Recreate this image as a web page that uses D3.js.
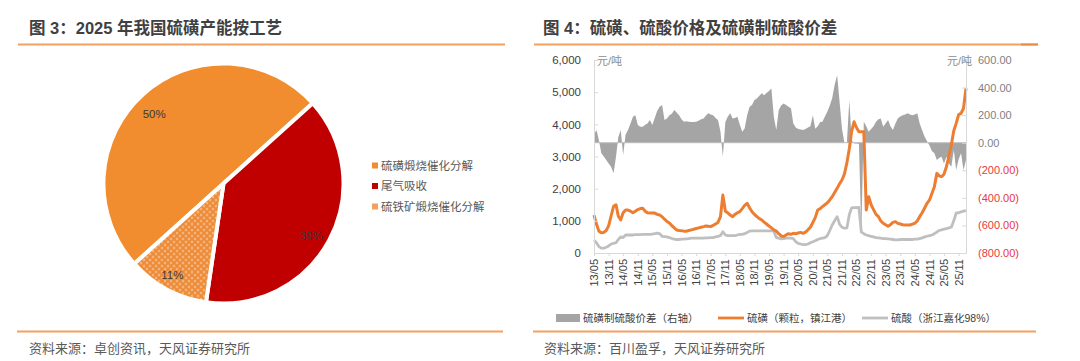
<!DOCTYPE html>
<html><head><meta charset="utf-8">
<script src="https://cdn.jsdelivr.net/npm/d3@7"></script>
<style>
body{margin:0;background:#fff;}
svg{display:block;font-family:"Liberation Sans",Arial,"Noto Sans CJK SC",sans-serif;}
</style></head><body>
<svg id="c" width="1080" height="361"></svg>
<script>
// ---------- data: left pie ----------
const pieLabels = ["硫磺煅烧催化分解", "尾气吸收", "硫铁矿煅烧催化分解"];
const pieValues = [50, 39, 11];

// ---------- data: right chart (monthly, from 2013-05) ----------
const firstMonth = "2013-05";
const sulfurPrice = [
 1180, 900, 680, 630, 640, 700, 850, 1150, 1450, 1500,
 1150, 1030, 1250, 1336, 1336, 1300, 1250, 1300, 1350, 1380,
 1389, 1300, 1250, 1243, 1243, 1240, 1200, 1180, 1130, 1050,
 980, 930, 850, 780, 715, 700, 690, 680, 680, 700,
 720, 740, 760, 780, 800, 820, 840, 830, 820, 860,
 900, 950, 1130, 1800, 1300, 1250, 1180, 1130, 1200, 1250,
 1285, 1380, 1480, 1545, 1400, 1285, 1200, 1130, 1070, 1025,
 960, 900, 840, 780, 720, 680, 600, 530, 510, 560,
 600, 580, 611, 600, 620, 640, 611, 650, 720, 800,
 950, 1100, 1336, 1380, 1440, 1500, 1560, 1650, 1750, 1880,
 2010, 2150, 2270, 2450, 2800, 3250, 3770, 4080, 3900, 3770,
 3770, 3770, 1336, 1750, 1500, 1350, 1200, 1130, 1000, 925,
 880, 830, 880, 950, 975, 920, 900, 880, 870, 870,
 870, 900, 925, 1000, 1130, 1250, 1400, 1545, 1650, 1850,
 2063, 2476, 2400, 2373, 2450, 2684, 3000, 3357, 3800, 4030,
 4300, 4340, 4500, 5120
];
const acidPrice = [
 400, 320, 200, 150, 150, 180, 220, 280, 300, 320,
 420, 500, 480, 560, 560, 560, 560, 570, 570, 570,
 580, 580, 580, 580, 590, 600, 620, 600, 520, 510,
 500, 480, 450, 430, 420, 420, 430, 430, 440, 450,
 460, 460, 460, 460, 460, 460, 470, 470, 480, 480,
 500, 520, 540, 660, 560, 540, 540, 540, 540, 560,
 580, 580, 600, 640, 680, 690, 690, 690, 690, 690,
 690, 690, 690, 690, 680, 480, 460, 440, 450, 460,
 460, 460, 450, 350, 300, 280, 260, 260, 280, 320,
 350, 380, 420, 450, 460, 480, 540, 700, 870, 1000,
 1130, 900, 800, 770, 780, 1200, 1400, 1410, 1410, 1420,
 650, 600, 560, 540, 520, 500, 480, 470, 460, 450,
 450, 440, 430, 420, 410, 410, 420, 420, 420, 420,
 420, 420, 430, 430, 450, 470, 500, 520, 540, 560,
 600, 650, 700, 720, 740, 760, 780, 800, 1000, 1243,
 1250, 1280, 1300, 1320
];
const spreadValues = [
 60, 92, 20, -77, -100, -126, -150, -174, -222, -100,
 40, 92, -89, 60, 92, 140, 188, 200, 128, 116,
 116, 130, 140, 164, 128, 180, 230, 261, 273, 164,
 176, 200, 210, 237, 220, 200, 170, 152, 155, 152,
 150, 150, 152, 160, 170, 176, 195, 213, 205, 200,
 180, 164, 80, -101, 150, 188, 213, 176, 180, 188,
 130, 80, 104, 200, 260, 273, 309, 320, 340, 358,
 345, 360, 375, 394, 188, 92, 237, 270, 285, 273,
 261, 250, 140, 110, 100, 95, 92, 100, 110, 120,
 200, 101, 120, 150, 152, 190, 225, 270, 322, 420,
 490, 300, 100, 0, 0, 309, 20, -5, -5, -10,
 -657, 152, 120, 80, 100, 120, 152, 170, 176, 116,
 140, 164, 120, 92, 140, 176, 190, 200, 205, 213,
 205, 200, 205, 213, 140, 90, 43, 10, -20, -60,
 -77, -126, -110, -101, -150, -101, -150, -174, -53, -198,
 -120, -77, -198, -126
];
const xTickLabels = ["13/05","13/11","14/05","14/11","15/05","15/11","16/05","16/11",
 "17/05","17/11","18/05","18/11","19/05","19/11","20/05","20/11","21/05","21/11",
 "22/05","22/11","23/05","23/11","24/05","24/11","25/05","25/11"];
const leftTicks = [0, 1000, 2000, 3000, 4000, 5000, 6000];
const rightTicks = [-800, -600, -400, -200, 0, 200, 400, 600];
const seriesNames = ["硫磺制硫酸价差（右轴）", "硫磺（颗粒，镇江港）", "硫酸（浙江嘉化98%）"];

// ---------- drawing ----------
const svg = d3.select("#c");
const hdrColor = "#F3A063";

function panelFrame(x0, x1, tx, title, sx, source, darkEnd) {
  svg.append("line").attr("x1", x0).attr("x2", x1).attr("y1", 44.5).attr("y2", 44.5)
    .attr("stroke", hdrColor).attr("stroke-width", 2);
  if (darkEnd) svg.append("line").attr("x1", x1 - 17).attr("x2", x1).attr("y1", 44.5).attr("y2", 44.5)
    .attr("stroke", "#EE8A3C").attr("stroke-width", 2);
  svg.append("line").attr("x1", x0 - 1).attr("x2", x1 - 2).attr("y1", 331.5).attr("y2", 331.5)
    .attr("stroke", hdrColor).attr("stroke-width", 2);
  svg.append("text").attr("x", tx).attr("y", 34).attr("font-size", 16.5).attr("font-weight", "bold")
    .attr("fill", "#404040").text(title);
  svg.append("text").attr("x", sx).attr("y", 353).attr("font-size", 13)
    .attr("fill", "#595959").text(source);
}
panelFrame(18, 505, 29, "图 3：2025 年我国硫磺产能按工艺", 29, "资料来源：卓创资讯，天风证券研究所", false);
panelFrame(534, 1038, 543, "图 4：硫磺、硫酸价格及硫磺制硫酸价差", 544, "资料来源：百川盈孚，天风证券研究所", true);

// ---------- Pie ----------
const pieColors = ["#F18D2F", "#C00000", "url(#dots)"];
const legendColors = ["#F18D2F", "#C00000", "#F2A060"];
const defs = svg.append("defs");
const pat = defs.append("pattern").attr("id", "dots").attr("width", 6).attr("height", 6)
  .attr("patternUnits", "userSpaceOnUse");
pat.append("rect").attr("width", 6).attr("height", 6).attr("fill", "#EE8A35");
pat.append("circle").attr("cx", 1.5).attr("cy", 1.5).attr("r", 0.9).attr("fill", "#FCE6D2");
pat.append("circle").attr("cx", 4.5).attr("cy", 4.5).attr("r", 0.9).attr("fill", "#FCE6D2");

const cx = 223.5, cy = 183.5, R = 120;
const pie = d3.pie().sort(null).startAngle(-132 * Math.PI / 180).endAngle(228 * Math.PI / 180);
const arcs = pie(pieValues);
const arcGen = d3.arc().innerRadius(0).outerRadius(R);
const pg = svg.append("g").attr("transform", `translate(${cx},${cy})`);
pg.selectAll("path").data(arcs).join("path")
  .attr("d", arcGen)
  .attr("fill", (d, i) => pieColors[i])
  .attr("stroke", "#fff").attr("stroke-width", 4).attr("stroke-linejoin", "miter");
// labels placed along each slice's bisector
const labelRadius = [98, 102, 105];
const labelShiftDeg = [-3, 2.5, 1];
pg.selectAll("text.pl").data(arcs).join("text").attr("class", "pl")
  .attr("transform", (d, i) => {
    const a = (d.startAngle + d.endAngle) / 2 + labelShiftDeg[i] * Math.PI / 180;
    const r = labelRadius[i];
    return `translate(${r * Math.sin(a)},${-r * Math.cos(a)})`;
  })
  .attr("text-anchor", "middle").attr("dominant-baseline", "central")
  .attr("font-size", 11.5).attr("fill", "#3a3a3a")
  .text(d => d.value + "%");

// legend
const lg = svg.append("g");
pieLabels.forEach((t, i) => {
  const y = 165.5 + i * 20.5;
  lg.append("rect").attr("x", 372).attr("y", y - 3).attr("width", 6).attr("height", 6).attr("fill", legendColors[i]);
  lg.append("text").attr("x", 381).attr("y", y).attr("dominant-baseline", "central")
    .attr("font-size", 11.5).attr("fill", "#595959").text(t);
});

// ---------- Line / area chart ----------
const start = d3.timeParse("%Y-%m")(firstMonth);
const dates = sulfurPrice.map((_, i) => d3.timeMonth.offset(start, i));
const x = d3.scaleTime().domain([start, dates[dates.length - 1]]).range([594, 966]);
const yL = d3.scaleLinear().domain([0, 6000]).range([253, 60]);
const yR = d3.scaleLinear().domain([-800, 600]).range([253, 60]);
const axisColor = "#D9D9D9";

const spreadData = dates.map((d, i) => ({ date: d, v: spreadValues[i] }));
const sulfurData = dates.map((d, i) => ({ date: d, v: sulfurPrice[i] }));
const acidData = dates.map((d, i) => ({ date: d, v: acidPrice[i] }));

svg.append("path").datum(spreadData)
  .attr("d", d3.area().x(d => x(d.date)).y0(yR(0)).y1(d => yR(d.v)))
  .attr("fill", "#A5A5A5");
svg.append("line").attr("x1", 594).attr("x2", 966).attr("y1", yR(0)).attr("y2", yR(0))
  .attr("stroke", "#BDBDBD").attr("stroke-width", 1);

svg.append("path").datum(acidData)
  .attr("d", d3.line().x(d => x(d.date)).y(d => yL(d.v)))
  .attr("fill", "none").attr("stroke", "#BFBFBF").attr("stroke-width", 2.8).attr("stroke-linejoin", "round");
svg.append("path").datum(sulfurData)
  .attr("d", d3.line().x(d => x(d.date)).y(d => yL(d.v)))
  .attr("fill", "none").attr("stroke", "#ED7D31").attr("stroke-width", 3).attr("stroke-linejoin", "round");

// Left axis
const gL = svg.append("g").attr("transform", "translate(594,0)")
  .call(d3.axisLeft(yL).tickValues(leftTicks).tickFormat(d3.format(",")).tickSizeInner(-4).tickSizeOuter(0).tickPadding(13));
gL.select(".domain").attr("stroke", axisColor);
gL.selectAll(".tick line").attr("stroke", axisColor);
gL.selectAll("text").attr("font-size", 11.5).attr("fill", "#404040").attr("font-family", null);

// Right axis
const fmt2 = d3.format(",.2f");
const gR = svg.append("g").attr("transform", "translate(966,0)")
  .call(d3.axisRight(yR).tickValues(rightTicks)
    .tickFormat(v => v < 0 ? "(" + fmt2(-v) + ")" : fmt2(v)).tickSizeInner(-4).tickSizeOuter(0).tickPadding(12));
gR.select(".domain").attr("stroke", axisColor);
gR.selectAll(".tick line").attr("stroke", axisColor);
gR.selectAll("text").attr("font-size", 11).attr("font-family", null)
  .attr("fill", d => d < 0 ? "#E8393C" : "#7F7F7F");

// Bottom axis
const parseTick = d3.timeParse("%y/%m");
const tickDates = xTickLabels.map(parseTick);
const gB = svg.append("g").attr("transform", "translate(0,253)")
  .call(d3.axisBottom(x).tickValues(tickDates).tickFormat(() => "").tickSizeInner(3).tickSizeOuter(0));
gB.select(".domain").attr("stroke", axisColor);
gB.selectAll(".tick line").attr("stroke", axisColor);
svg.append("g").selectAll("text").data(xTickLabels).join("text")
  .attr("transform", (t, i) => `translate(${x(tickDates[i])},259) rotate(-90)`)
  .attr("text-anchor", "end").attr("dominant-baseline", "central")
  .attr("font-size", 11).attr("fill", "#404040").text(t => t);

// unit labels
svg.append("text").attr("x", 597).attr("y", 61).attr("dominant-baseline", "central")
  .attr("font-size", 11).attr("fill", "#8C8C8C").text("元/吨");
svg.append("text").attr("x", 972).attr("y", 61).attr("dominant-baseline", "central").attr("text-anchor", "end")
  .attr("font-size", 11).attr("fill", "#8C8C8C").text("元/吨");

// legend
const ly = 318;
svg.append("rect").attr("x", 556).attr("y", ly - 4).attr("width", 24).attr("height", 8).attr("fill", "#A5A5A5");
svg.append("text").attr("x", 583).attr("y", ly).attr("dominant-baseline", "central")
  .attr("font-size", 10.5).attr("fill", "#404040").text(seriesNames[0]);
svg.append("line").attr("x1", 718).attr("x2", 744).attr("y1", ly).attr("y2", ly)
  .attr("stroke", "#ED7D31").attr("stroke-width", 2.8);
svg.append("text").attr("x", 747).attr("y", ly).attr("dominant-baseline", "central")
  .attr("font-size", 10.5).attr("fill", "#404040").text(seriesNames[1]);
svg.append("line").attr("x1", 862).attr("x2", 888).attr("y1", ly).attr("y2", ly)
  .attr("stroke", "#BFBFBF").attr("stroke-width", 2.8);
svg.append("text").attr("x", 891).attr("y", ly).attr("dominant-baseline", "central")
  .attr("font-size", 10.5).attr("fill", "#404040").text(seriesNames[2]);
</script>
</body></html>
